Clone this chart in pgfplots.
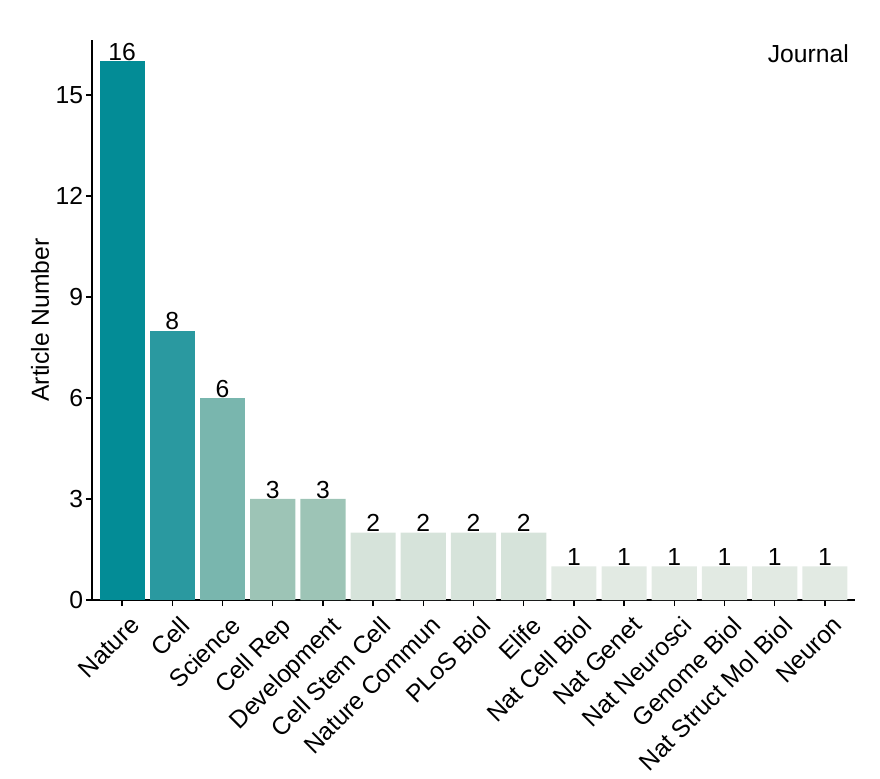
\documentclass[border=0pt]{standalone}
\usepackage{pgfplots}
\pgfplotsset{compat=1.18}
\usepackage{fontspec}
\setmainfont{Liberation Sans}
\definecolor{c1}{RGB}{3,140,150}
\definecolor{c2}{RGB}{42,153,160}
\definecolor{c3}{RGB}{121,182,174}
\definecolor{c4}{RGB}{157,196,182}
\definecolor{c5}{RGB}{214,227,218}
\definecolor{c6}{RGB}{226,234,227}
\begin{document}
\begin{tikzpicture}
\path[use as bounding box] (-69pt,-133.5pt) rectangle (591pt,450pt);
\begin{axis}[
  at={(0,0)}, anchor=south west,
  scale only axis, width=572.25pt, height=420pt,
  xmin=-0.6, xmax=14.6, ymin=0, ymax=16.63,
  axis lines=left, axis line style={-, line width=1.4pt},
  ybar, bar width=0.9, bar shift=0pt,
  xtick={0,...,14},
  xticklabels={Nature,Cell,Science,Cell Rep,Development,Cell Stem Cell,Nature Commun,PLoS Biol,Elife,Nat Cell Biol,Nat Genet,Nat Neurosci,Genome Biol,Nat Struct Mol Biol,Neuron},
  ytick={0,3,6,9,12,15},
  tick align=outside, tick pos=left,
  major tick length=4.5pt,
  tick style={line width=1pt, black},
  /pgf/number format/assume math mode=true,
  tick label style={font=\fontsize{18.5}{21}\selectfont},
  xticklabel style={xshift=5pt, yshift=-5pt, rotate=45, anchor=north east, inner sep=1pt},
  yticklabel style={inner sep=2pt},
  ylabel={Article Number},
  every axis y label/.style={at={(axis description cs:-0.068,0.5)}, rotate=90, anchor=center, font=\fontsize{18.5}{21}\selectfont},
  nodes near coords,
  every node near coord/.append style={font=\fontsize{18.5}{21}\selectfont, anchor=south, inner sep=0.3pt, /pgf/number format/assume math mode=true},
  clip=false,
]
\addplot[fill=c1, draw=none] coordinates {(0,16)};
\addplot[fill=c2, draw=none] coordinates {(1,8)};
\addplot[fill=c3, draw=none] coordinates {(2,6)};
\addplot[fill=c4, draw=none] coordinates {(3,3) (4,3)};
\addplot[fill=c5, draw=none] coordinates {(5,2) (6,2) (7,2) (8,2)};
\addplot[fill=c6, draw=none] coordinates {(9,1) (10,1) (11,1) (12,1) (13,1) (14,1)};
\node[anchor=north east, inner sep=0pt, font=\fontsize{18.5}{21}\selectfont] at ([xshift=-4.5pt,yshift=-3pt]rel axis cs:1,1) {Journal};
\end{axis}
\end{tikzpicture}
\end{document}
